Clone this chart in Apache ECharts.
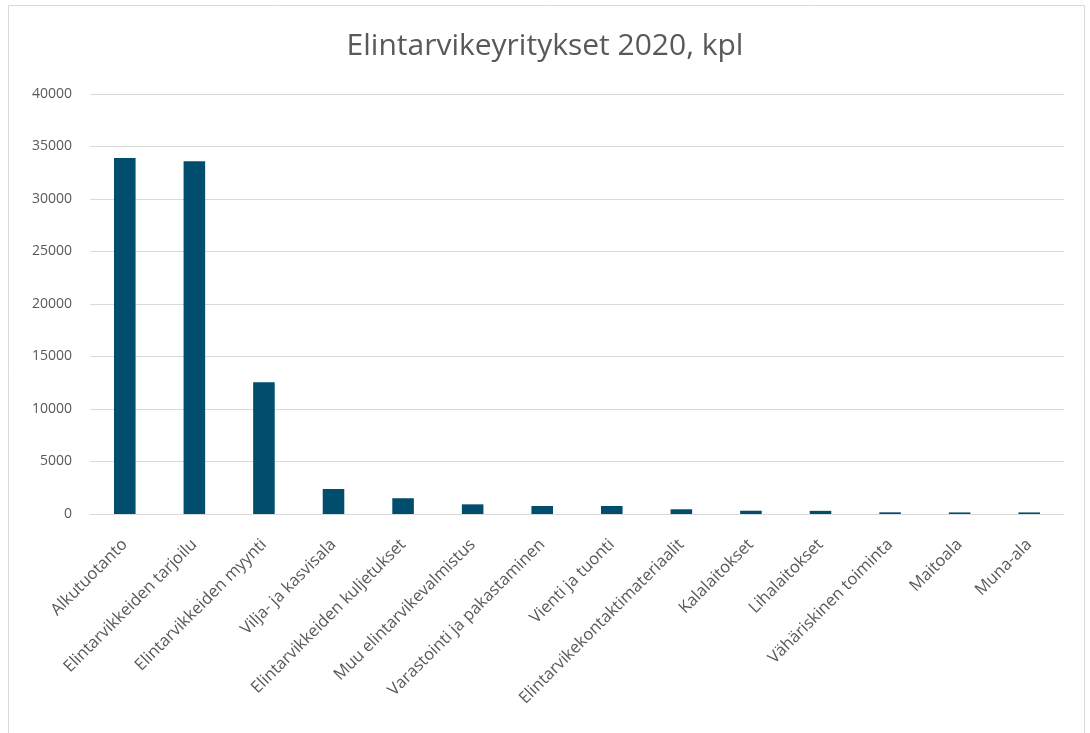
<!DOCTYPE html>
<html>
<head>
<meta charset="utf-8">
<script src="https://cdn.jsdelivr.net/npm/echarts@6/dist/echarts.min.js"></script>
<style>html,body{margin:0;padding:0;background:#fff}#c{width:1090px;height:733px}</style>
</head>
<body>
<div id="c"></div>
<script>
const categories = ["Alkutuotanto","Elintarvikkeiden tarjoilu","Elintarvikkeiden myynti","Vilja- ja kasvisala","Elintarvikkeiden kuljetukset","Muu elintarvikevalmistus","Varastointi ja pakastaminen","Vienti ja tuonti","Elintarvikekontaktimateriaalit","Kalalaitokset","Lihalaitokset","Vähäriskinen toiminta","Maitoala","Muna-ala"];
const values = [33900, 33600, 12550, 2380, 1500, 920, 760, 760, 450, 310, 300, 160, 150, 150];
const yTicks = [0, 5000, 10000, 15000, 20000, 25000, 30000, 35000, 40000];
const titleText = "Elintarvikeyritykset 2020, kpl";

const chart = echarts.init(document.getElementById('c'), null, {renderer: 'canvas'});
const font = "'Open Sans', sans-serif";
chart.setOption({
  animation: false,
  backgroundColor: '#fff',
  graphic: [{type: 'rect', shape: {x: 8.5, y: 5.5, width: 1076, height: 760}, style: {fill: 'none', stroke: '#d9d9d9', lineWidth: 1}}],
  title: {text: titleText, left: 'center', top: 26, textStyle: {fontFamily: font, fontWeight: 'normal', fontSize: 30, color: '#595959'}},
  grid: {left: 90, right: 26, top: 94, bottom: 219, containLabel: false},
  xAxis: {
    type: 'category', data: categories,
    axisLine: {lineStyle: {color: '#d9d9d9'}},
    axisTick: {show: false},
    axisLabel: {rotate: 45, interval: 0, color: '#595959', fontFamily: font, fontSize: 16.5, margin: 28}
  },
  yAxis: {
    type: 'value', min: yTicks[0], max: yTicks[yTicks.length - 1], interval: 5000,
    axisLine: {show: false}, axisTick: {show: false},
    splitLine: {lineStyle: {color: '#d9d9d9'}},
    axisLabel: {color: '#595959', fontFamily: font, fontSize: 14, margin: 18, formatter: v => String(v)}
  },
  series: [{type: 'bar', data: values, barWidth: '31%', itemStyle: {color: '#004D6E'}}]
});
</script>
</body>
</html>
